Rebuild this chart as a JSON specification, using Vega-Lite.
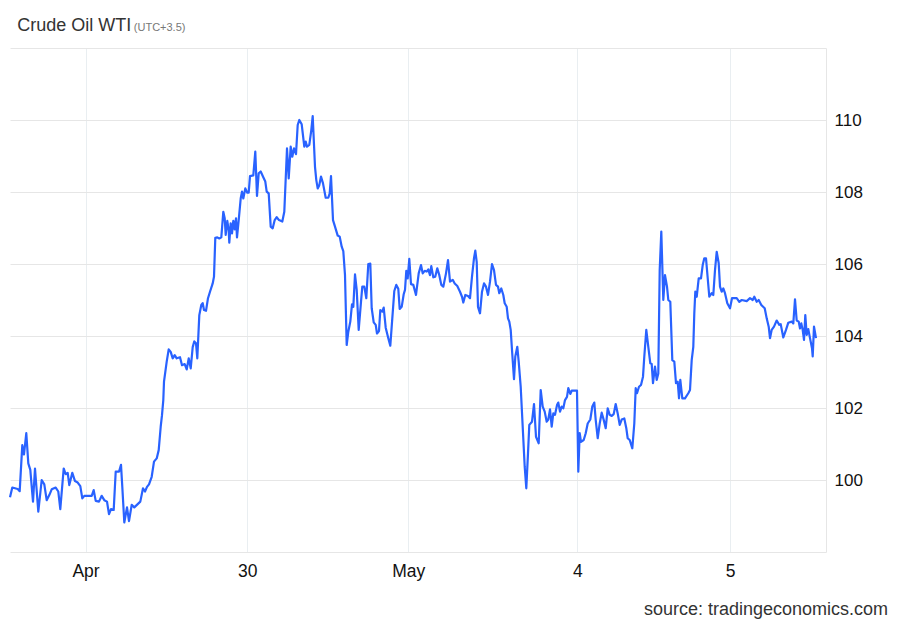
{
  "$schema": "https://vega.github.io/schema/vega-lite/v6.json",
  "autosize": "none",
  "width": 816,
  "height": 504,
  "padding": {"left": 10, "top": 48, "right": 74, "bottom": 72},
  "background": "white",
  "title": {
    "text": "source: tradingeconomics.com",
    "orient": "bottom",
    "anchor": "end",
    "frame": "group",
    "align": "right",
    "dx": 62,
    "offset": 35,
    "baseline": "alphabetic",
    "font": "Liberation Sans",
    "fontSize": 18,
    "fontWeight": "normal",
    "color": "#333333"
  },
  "config": {
    "view": {"stroke": null},
    "axis": {"labelFont": "Liberation Sans", "titleFont": "Liberation Sans"}
  },
  "data": {
    "values": [
      {"t":0,"price":99.52},{"t":2.3,"price":99.79},{"t":7.7,"price":99.75},{"t":9.7,"price":99.69},{"t":12.3,"price":100.97},{"t":14,"price":100.71},{"t":16.3,"price":101.3},{"t":18.3,"price":100.46},{"t":20.3,"price":100.28},{"t":23,"price":99.4},{"t":25,"price":100.32},{"t":28.3,"price":99.12},{"t":31.7,"price":100.0},{"t":34.3,"price":99.88},{"t":36.7,"price":99.44},{"t":39.3,"price":99.58},{"t":41.7,"price":99.74},{"t":45.7,"price":99.79},{"t":48.3,"price":99.68},{"t":50.3,"price":99.19},{"t":53.7,"price":100.32},{"t":55.7,"price":100.16},{"t":57.7,"price":100.2},{"t":59.3,"price":99.86},{"t":62.3,"price":100.2},{"t":65,"price":99.97},{"t":67.7,"price":99.93},{"t":70.3,"price":99.83},{"t":72.3,"price":99.49},{"t":74.3,"price":99.56},{"t":81.7,"price":99.56},{"t":83.7,"price":99.72},{"t":85.7,"price":99.42},{"t":89,"price":99.4},{"t":91.7,"price":99.56},{"t":94.3,"price":99.44},{"t":97,"price":99.4},{"t":99,"price":99.05},{"t":101,"price":99.19},{"t":103.7,"price":99.17},{"t":105.7,"price":100.23},{"t":109,"price":100.23},{"t":111,"price":100.42},{"t":112.3,"price":99.81},{"t":114.3,"price":98.82},{"t":117,"price":99.24},{"t":119,"price":98.86},{"t":121.7,"price":99.31},{"t":124.3,"price":99.24},{"t":127.7,"price":99.33},{"t":130.3,"price":99.4},{"t":133,"price":99.77},{"t":135,"price":99.68},{"t":137,"price":99.81},{"t":139,"price":99.88},{"t":141.7,"price":100.09},{"t":144,"price":100.51},{"t":146.7,"price":100.6},{"t":148.7,"price":100.83},{"t":150.7,"price":101.48},{"t":152,"price":101.8},{"t":153.3,"price":102.22},{"t":154,"price":102.73},{"t":156.7,"price":103.29},{"t":158.7,"price":103.63},{"t":160.7,"price":103.56},{"t":162.7,"price":103.38},{"t":164.7,"price":103.47},{"t":166.7,"price":103.38},{"t":170,"price":103.41},{"t":172,"price":103.19},{"t":174.7,"price":103.22},{"t":176.7,"price":103.07},{"t":178.7,"price":103.38},{"t":180.7,"price":103.1},{"t":182.7,"price":103.69},{"t":184.3,"price":103.85},{"t":186,"price":103.8},{"t":187.3,"price":103.38},{"t":189.3,"price":104.58},{"t":191.3,"price":104.86},{"t":192.7,"price":104.91},{"t":194,"price":104.72},{"t":196,"price":104.7},{"t":198,"price":105.05},{"t":200,"price":105.23},{"t":202.7,"price":105.46},{"t":204,"price":105.65},{"t":205.3,"price":106.73},{"t":207.3,"price":106.74},{"t":209.3,"price":106.71},{"t":211.3,"price":106.74},{"t":213.3,"price":107.45},{"t":214.7,"price":107.27},{"t":215.7,"price":106.81},{"t":217.3,"price":107.2},{"t":218.7,"price":106.93},{"t":219.3,"price":106.59},{"t":220.7,"price":107.13},{"t":222,"price":106.85},{"t":223.3,"price":107.2},{"t":224.7,"price":106.96},{"t":226,"price":107.27},{"t":227,"price":106.74},{"t":228.7,"price":107.22},{"t":230.7,"price":107.82},{"t":232,"price":108.01},{"t":233.3,"price":107.82},{"t":235.3,"price":108.1},{"t":237.3,"price":107.98},{"t":238.7,"price":107.98},{"t":240,"price":108.44},{"t":243.3,"price":108.46},{"t":245.3,"price":109.12},{"t":247,"price":107.89},{"t":248.7,"price":108.52},{"t":250.7,"price":108.57},{"t":253.3,"price":108.41},{"t":255.3,"price":108.29},{"t":256.7,"price":108.01},{"t":258.7,"price":107.96},{"t":260.7,"price":107.04},{"t":262.7,"price":106.99},{"t":264.7,"price":107.22},{"t":266.7,"price":107.3},{"t":269,"price":107.22},{"t":272.3,"price":107.18},{"t":274.3,"price":107.45},{"t":277,"price":109.21},{"t":278.7,"price":108.38},{"t":280.7,"price":109.26},{"t":282.3,"price":108.98},{"t":284,"price":109.21},{"t":286,"price":109.05},{"t":287.7,"price":109.86},{"t":289.3,"price":110.0},{"t":291.7,"price":109.88},{"t":294.3,"price":109.26},{"t":295.7,"price":109.4},{"t":297,"price":109.26},{"t":299.3,"price":109.31},{"t":301.3,"price":109.72},{"t":302.7,"price":110.11},{"t":305,"price":108.7},{"t":306.3,"price":108.33},{"t":307.7,"price":108.1},{"t":309.3,"price":108.19},{"t":311,"price":108.43},{"t":313,"price":108.24},{"t":315.7,"price":107.84},{"t":318.3,"price":107.84},{"t":319.7,"price":107.96},{"t":321,"price":108.44},{"t":323,"price":107.22},{"t":325,"price":107.04},{"t":327.7,"price":106.79},{"t":329.7,"price":106.76},{"t":331.7,"price":106.48},{"t":333.3,"price":106.36},{"t":335,"price":105.69},{"t":336.7,"price":103.75},{"t":338.3,"price":104.12},{"t":340.3,"price":104.4},{"t":342,"price":104.88},{"t":343.3,"price":104.81},{"t":345,"price":105.71},{"t":346.7,"price":105.28},{"t":348.7,"price":104.17},{"t":351,"price":104.95},{"t":352.3,"price":105.37},{"t":354.3,"price":105.37},{"t":356.3,"price":105.05},{"t":358.3,"price":106.0},{"t":360.3,"price":106.01},{"t":361.7,"price":104.77},{"t":363.7,"price":104.38},{"t":365.7,"price":104.31},{"t":367,"price":104.07},{"t":369,"price":104.14},{"t":370.3,"price":104.72},{"t":372.3,"price":104.68},{"t":373.7,"price":104.79},{"t":375.7,"price":104.23},{"t":378.3,"price":103.94},{"t":380.3,"price":103.73},{"t":382.3,"price":104.49},{"t":384.3,"price":105.25},{"t":386.3,"price":105.42},{"t":388.3,"price":105.31},{"t":389.7,"price":104.75},{"t":391.7,"price":104.81},{"t":393.7,"price":105.16},{"t":395,"price":105.28},{"t":396.3,"price":105.81},{"t":397.7,"price":105.6},{"t":399.3,"price":106.14},{"t":401,"price":105.44},{"t":403.3,"price":105.42},{"t":406,"price":105.14},{"t":408.7,"price":105.74},{"t":411,"price":105.97},{"t":412.7,"price":105.74},{"t":414.7,"price":105.81},{"t":416.7,"price":105.79},{"t":418.3,"price":105.85},{"t":420,"price":105.69},{"t":421.3,"price":105.94},{"t":423.3,"price":105.63},{"t":425.3,"price":105.65},{"t":427.3,"price":105.88},{"t":429.3,"price":105.69},{"t":431.3,"price":105.42},{"t":433.3,"price":105.37},{"t":436,"price":105.74},{"t":438,"price":106.11},{"t":440,"price":105.51},{"t":442.7,"price":105.56},{"t":444.7,"price":105.46},{"t":447.3,"price":105.39},{"t":450,"price":105.23},{"t":452,"price":105.09},{"t":453.3,"price":104.93},{"t":455.3,"price":105.14},{"t":458,"price":105.11},{"t":460,"price":105.05},{"t":462,"price":105.65},{"t":464,"price":106.16},{"t":465.3,"price":106.37},{"t":466.7,"price":106.06},{"t":468,"price":104.81},{"t":470,"price":104.63},{"t":472,"price":105.23},{"t":474,"price":105.46},{"t":476,"price":105.37},{"t":478,"price":105.14},{"t":480,"price":105.51},{"t":482,"price":106.0},{"t":484,"price":105.83},{"t":486,"price":105.42},{"t":488,"price":105.37},{"t":489.3,"price":105.19},{"t":491.3,"price":105.32},{"t":493.3,"price":105.14},{"t":494.7,"price":104.91},{"t":496.7,"price":104.81},{"t":498,"price":104.49},{"t":499.3,"price":104.4},{"t":500.7,"price":104.17},{"t":502,"price":103.61},{"t":504,"price":102.8},{"t":505.3,"price":103.43},{"t":507.3,"price":103.7},{"t":508.7,"price":103.29},{"t":510.7,"price":102.59},{"t":512.7,"price":101.48},{"t":514.7,"price":100.37},{"t":516.3,"price":99.77},{"t":518,"price":100.74},{"t":519.3,"price":101.53},{"t":522,"price":101.62},{"t":524,"price":102.11},{"t":526,"price":101.2},{"t":528.7,"price":101.02},{"t":530.7,"price":102.5},{"t":532.7,"price":102.04},{"t":534.7,"price":101.9},{"t":536.7,"price":101.62},{"t":538.3,"price":101.68},{"t":540,"price":101.96},{"t":541.7,"price":101.48},{"t":543.3,"price":101.85},{"t":545,"price":101.81},{"t":547,"price":102.08},{"t":548.3,"price":102.15},{"t":550,"price":101.9},{"t":551.7,"price":102.04},{"t":553.3,"price":101.99},{"t":555,"price":102.22},{"t":557,"price":102.31},{"t":558.3,"price":102.55},{"t":560.3,"price":102.39},{"t":561.7,"price":102.48},{"t":563.7,"price":102.48},{"t":567,"price":102.48},{"t":568.3,"price":100.23},{"t":569.7,"price":101.3},{"t":571,"price":101.06},{"t":573.7,"price":101.11},{"t":575.7,"price":101.3},{"t":577.7,"price":101.57},{"t":580.3,"price":101.68},{"t":582.3,"price":102.04},{"t":584.3,"price":102.15},{"t":585.7,"price":101.67},{"t":587.7,"price":101.16},{"t":589.7,"price":101.57},{"t":591.7,"price":101.87},{"t":593.7,"price":101.67},{"t":595.7,"price":101.44},{"t":597.7,"price":101.99},{"t":599.7,"price":101.81},{"t":601.7,"price":101.78},{"t":603.7,"price":101.83},{"t":605.7,"price":102.11},{"t":607.7,"price":101.85},{"t":609.7,"price":101.53},{"t":611.7,"price":101.68},{"t":614.3,"price":101.71},{"t":616.3,"price":101.44},{"t":617.7,"price":101.16},{"t":619.7,"price":101.11},{"t":622.3,"price":100.88},{"t":624.3,"price":101.57},{"t":625.7,"price":102.55},{"t":627,"price":102.41},{"t":629,"price":102.59},{"t":631,"price":102.64},{"t":633,"price":102.87},{"t":634.3,"price":103.43},{"t":636.3,"price":104.17},{"t":638.3,"price":103.7},{"t":640.3,"price":103.24},{"t":641.7,"price":103.22},{"t":643,"price":102.69},{"t":645,"price":103.15},{"t":646.7,"price":102.78},{"t":648.3,"price":102.96},{"t":649.7,"price":105.83},{"t":651.3,"price":106.9},{"t":653.3,"price":105.0},{"t":655,"price":105.69},{"t":657,"price":105.37},{"t":658.3,"price":105.0},{"t":660.3,"price":104.95},{"t":662.3,"price":103.33},{"t":664.3,"price":103.29},{"t":666,"price":102.69},{"t":667.7,"price":102.73},{"t":669,"price":102.27},{"t":670.3,"price":102.78},{"t":672.3,"price":102.27},{"t":675,"price":102.27},{"t":678.3,"price":102.41},{"t":680,"price":102.5},{"t":681.7,"price":103.33},{"t":683.3,"price":103.7},{"t":684.3,"price":104.63},{"t":685.3,"price":105.23},{"t":686.7,"price":105.09},{"t":688.7,"price":105.6},{"t":691,"price":105.6},{"t":692.7,"price":105.97},{"t":694.3,"price":106.16},{"t":696,"price":106.16},{"t":699.3,"price":105.09},{"t":701.7,"price":105.19},{"t":703.3,"price":105.14},{"t":705,"price":105.83},{"t":706.7,"price":106.34},{"t":708.7,"price":106.02},{"t":710,"price":105.37},{"t":711.7,"price":105.23},{"t":713.3,"price":105.32},{"t":715,"price":105.19},{"t":717.3,"price":104.91},{"t":720,"price":104.77},{"t":722,"price":105.05},{"t":726.7,"price":105.05},{"t":729.3,"price":104.95},{"t":731.7,"price":105.0},{"t":736.7,"price":104.97},{"t":740,"price":105.05},{"t":742.7,"price":105.0},{"t":744.3,"price":105.09},{"t":746.7,"price":104.95},{"t":748.7,"price":105.0},{"t":751.3,"price":104.86},{"t":754.7,"price":104.77},{"t":756.7,"price":104.49},{"t":758.7,"price":104.26},{"t":760,"price":103.94},{"t":761.7,"price":104.17},{"t":764,"price":104.26},{"t":766.7,"price":104.43},{"t":769.3,"price":104.31},{"t":770.7,"price":104.33},{"t":773.3,"price":103.96},{"t":776,"price":104.17},{"t":778.3,"price":104.37},{"t":781.7,"price":104.4},{"t":783.3,"price":104.35},{"t":785,"price":105.02},{"t":786.7,"price":104.43},{"t":788.7,"price":104.4},{"t":790,"price":104.21},{"t":791.3,"price":104.35},{"t":792.7,"price":104.17},{"t":794,"price":103.89},{"t":795.3,"price":104.58},{"t":796.7,"price":104.03},{"t":798.3,"price":104.19},{"t":800,"price":103.94},{"t":802,"price":103.66},{"t":802.7,"price":103.43},{"t":804,"price":104.26},{"t":806,"price":103.94}
    ]
  },
  "mark": {"type": "line", "color": "#2962FF", "strokeWidth": 2.2, "strokeJoin": "round"},
  "encoding": {
    "x": {
      "field": "t",
      "type": "quantitative",
      "scale": {"domain": [0, 816], "nice": false, "zero": false},
      "axis": {
        "values": [75.5, 237.3, 398.3, 567.3, 720],
        "labelExpr": "datum.value < 150 ? 'Apr' : datum.value < 300 ? '30' : datum.value < 480 ? 'May' : datum.value < 650 ? '4' : '5'",
        "grid": true,
        "gridColor": "#e9eef1",
        "gridWidth": 1,
        "domain": false,
        "ticks": false,
        "tickSize": 0,
        "labelPadding": 24,
        "labelBaseline": "alphabetic",
        "labelFontSize": 17.5,
        "labelColor": "#111111",
        "labelFlush": false,
        "title": "Crude Oil WTI",
        "titleX": 6.7,
        "titleY": -522,
        "titleAlign": "left",
        "titleBaseline": "alphabetic",
        "titleAngle": 0,
        "titleFontSize": 18,
        "titleFontWeight": "normal",
        "titleColor": "#333333"
      }
    },
    "y": {
      "field": "price",
      "type": "quantitative",
      "scale": {"domain": [98, 112], "nice": false, "zero": false},
      "axis": {
        "orient": "right",
        "values": [98, 100, 102, 104, 106, 108, 110, 112],
        "labelExpr": "(datum.value == 98 || datum.value == 112) ? '' : datum.label",
        "grid": true,
        "gridColor": "#e6e6e6",
        "gridWidth": 1,
        "domain": true,
        "domainColor": "#e6e6e6",
        "ticks": false,
        "tickSize": 0,
        "labelPadding": 8,
        "labelBaseline": "middle",
        "labelFontSize": 17,
        "labelColor": "#111111",
        "labelFlush": false,
        "title": "(UTC+3.5)",
        "titleX": -692.7,
        "titleY": -18,
        "titleAlign": "left",
        "titleBaseline": "alphabetic",
        "titleAngle": 0,
        "titleFontSize": 11,
        "titleFontWeight": "normal",
        "titleColor": "#777777"
      }
    }
  }
}
